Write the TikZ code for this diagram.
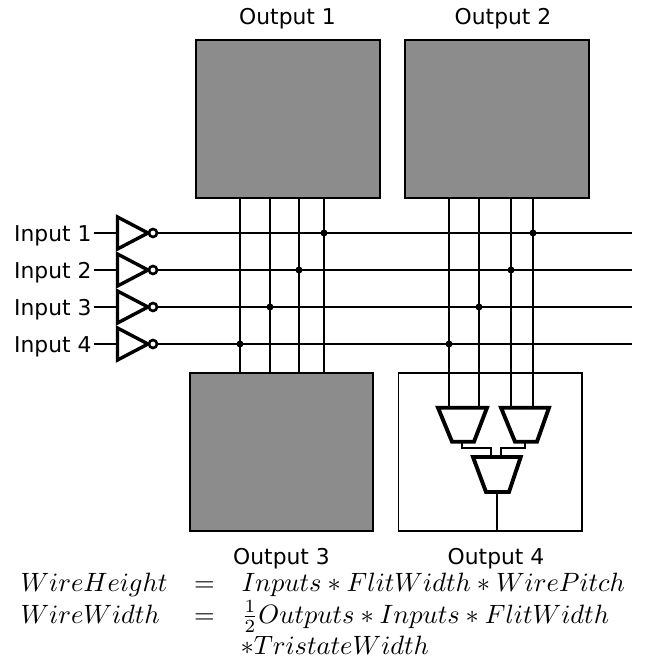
\documentclass[tikz,border=0pt]{standalone}
\usepackage[no-math]{fontspec}
\setmainfont{DejaVu Sans}
\definecolor{blockgray}{HTML}{8C8C8C}
\tikzset{
  block/.style={rectangle,draw=black,line width=1.8pt,fill=blockgray,inner sep=0pt,minimum width=#1,minimum height=158pt},
  plainbox/.style={rectangle,draw=black,line width=1.8pt,fill=white,inner sep=0pt,minimum width=183.5pt,minimum height=158pt},
  wire/.style={draw=black,line width=1.8pt},
  gate/.style={draw=black,line width=3.4pt,miter limit=10,fill=white},
  muxgate/.style={draw=black,line width=3.9pt,miter limit=10,fill=white},
  bubble/.style={circle,draw=black,line width=2.6pt,fill=white,minimum size=8pt,inner sep=0pt},
  dotj/.style={circle,fill=black,minimum size=7pt,inner sep=0pt},
  lbl/.style={font=\fontsize{21.8}{26}\selectfont,inner sep=0pt,anchor=base},
  eq/.style={anchor=base west,inner sep=0pt,scale=2.65,transform shape},
}
\begin{document}
\begin{tikzpicture}[x=1pt,y=-1pt]
\useasboundingbox (0,0) rectangle (646,662);
% blocks
\node[block=184pt] (o1) at (288,119) {};
\node[block=184pt] (o2) at (497,119) {};
\node[block=183.5pt] (o3) at (281.5,452) {};
\node[plainbox] (o4) at (490.3,452) {};
% output labels
\node[lbl] (t1) at (287.5,24.5) {Output 1};
\node[lbl] (t2) at (503,24.5) {Output 2};
\node[lbl] (t3) at (281.5,564) {Output 3};
\node[lbl] (t4) at (496,564) {Output 4};
% multiplexers
\coordinate (m1a) at (438,407.7); \coordinate (m1b) at (487,407.7);
\coordinate (m1c) at (474,441.7); \coordinate (m1d) at (452,441.7);
\coordinate (m2a) at (501,407.7); \coordinate (m2b) at (549,407.7);
\coordinate (m2c) at (537,441.7); \coordinate (m2d) at (515,441.7);
\coordinate (m3a) at (473,457); \coordinate (m3b) at (520.7,457);
\coordinate (m3c) at (509,492); \coordinate (m3d) at (486,492);
% vertical lines
\foreach \n/\x in {a/240,b/270,c/299,d/324}{
  \draw[wire] (o1.south -| \x,0) -- (o3.north -| \x,0);
}
\foreach \n/\x in {e/449,f/479}{
  \draw[wire] (o2.south -| \x,0) -- (m1a -| \x,0);
}
\foreach \n/\x in {g/511,h/533}{
  \draw[wire] (o2.south -| \x,0) -- (m2a -| \x,0);
}
% mux interconnect
\draw[wire] (461.7,441.7) |- (490.7,448) -- (490.7,457);
\draw[wire] (525,441.7) |- (501,448) -- (501,457);
\draw[wire] (496.7,492) -- (o4.south -| 496.7,0);
\draw[muxgate] (m1a) -- (m1b) -- (m1c) -- (m1d) -- cycle;
\draw[muxgate] (m2a) -- (m2b) -- (m2c) -- (m2d) -- cycle;
\draw[muxgate] (m3a) -- (m3b) -- (m3c) -- (m3d) -- cycle;
% inputs
\foreach \i/\y/\cx/\dx in {1/233/324/533,2/270/299/511,3/307/270/479,4/344/240/449}{
  \node[lbl,anchor=base west] (in\i) at (14,\y+8.5) {Input \i};
  \coordinate (end\i) at (632,\y);
  \coordinate (stub\i) at (94,\y);
  \coordinate (tl\i) at (117.5,\y-16);
  \coordinate (bl\i) at (117.5,\y+16);
  \coordinate (ap\i) at (148,\y);
  \draw[wire] (stub\i) -- (tl\i |- stub\i);
  \draw[wire] (ap\i) -- (end\i);
  \draw[gate] (tl\i) -- (ap\i) -- (bl\i) -- cycle;
  \node[bubble] (b\i) at (153,\y) {};
  \node[dotj] (j\i) at (\cx,\y) {};
  \node[dotj] (k\i) at (\dx,\y) {};
}
% equations
\node[eq] (e1) at (20,591.5) {$WireHeight$};
\node[eq] (e2) at (20,623) {$WireWidth$};
\node[eq] (e3) at (193.5,591.5) {$=$};
\node[eq] (e4) at (193.5,623) {$=$};
\node[eq] (e5) at (241,591.5) {$Inputs*FlitWidth*WirePitch$};
\node[eq] (e6) at (241,623) {$\frac{1}{2}Outputs*Inputs*FlitWidth$};
\node[eq] (e7) at (240,654) {$*TristateWidth$};
\end{tikzpicture}
\end{document}
